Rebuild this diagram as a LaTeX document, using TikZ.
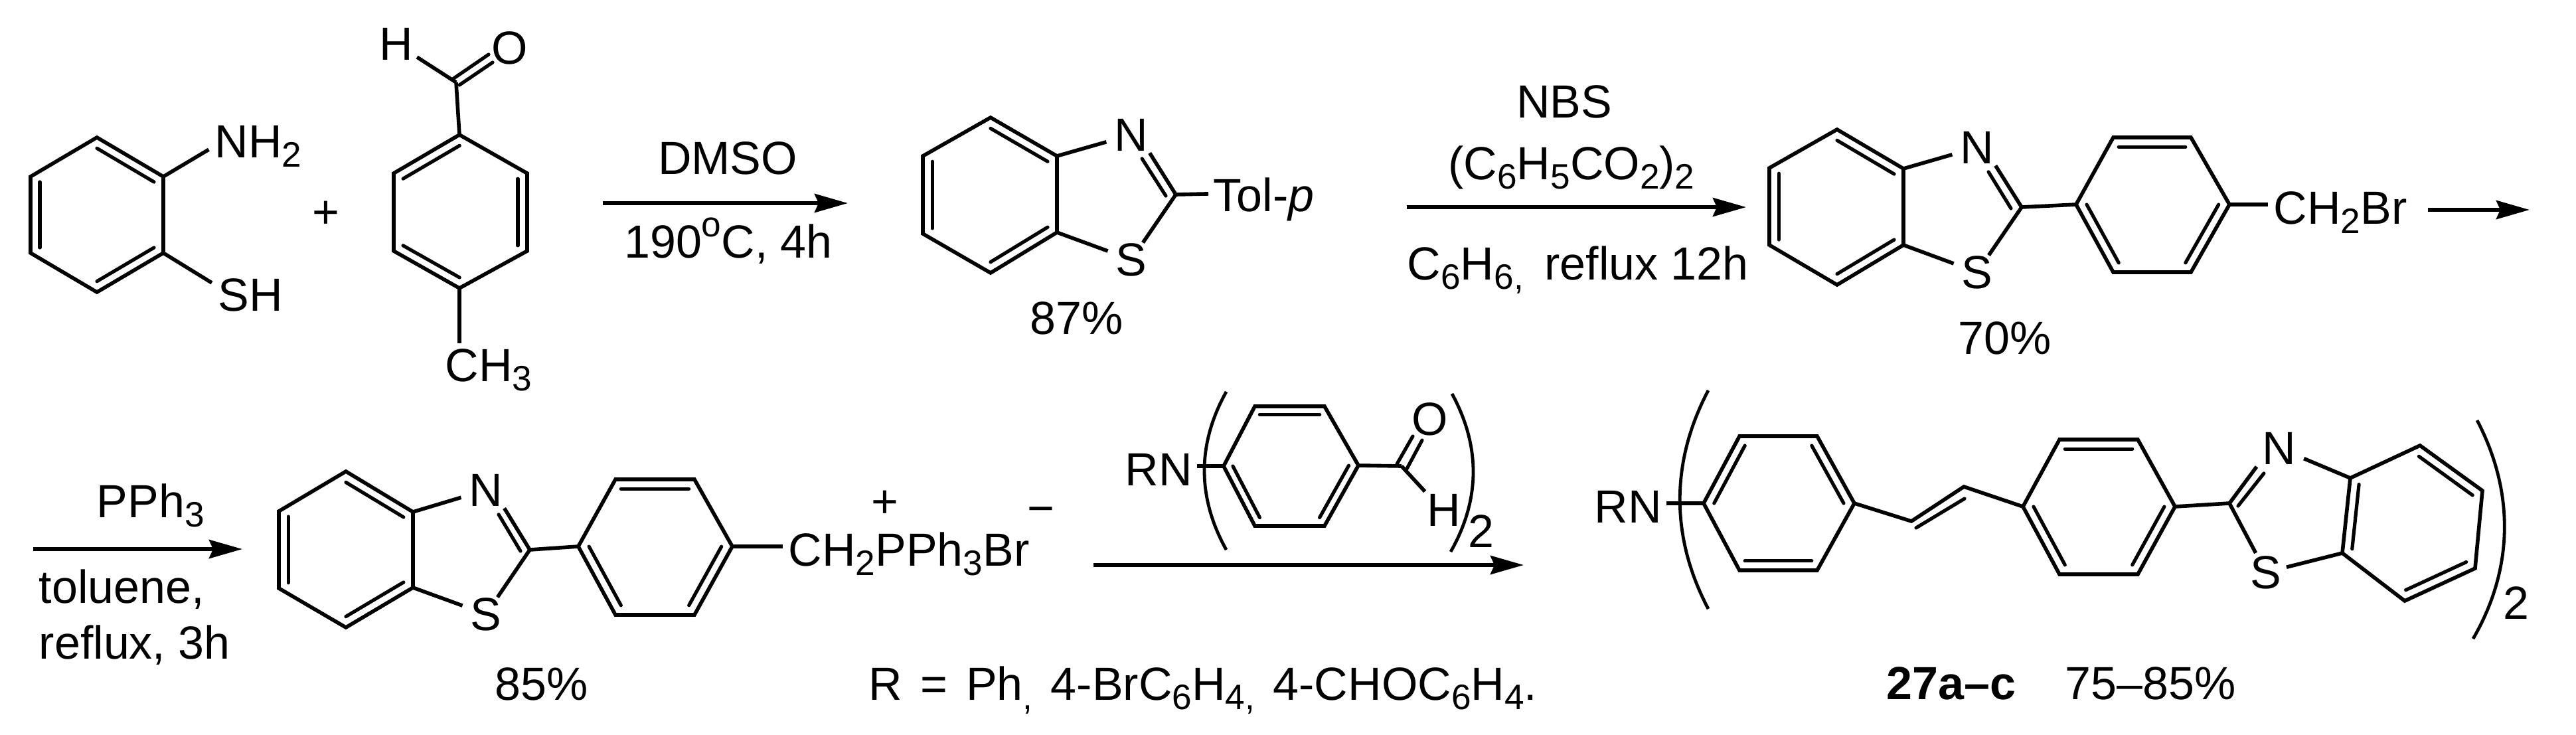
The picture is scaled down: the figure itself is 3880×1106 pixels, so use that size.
\documentclass[tikz,border=0pt]{standalone}
\usepackage{fontspec}
\setmainfont{Liberation Sans}
\usetikzlibrary{calc,arrows.meta}
\newcommand{\sbs}[1]{\raisebox{-3.6pt}{\fontsize{13.3}{14}\selectfont #1}}
\tikzset{
  lbl/.style={inner sep=0pt,font=\fontsize{17.5}{20}\selectfont},
  bond/.style={line width=1.4pt,line join=miter},
  inbond/.style={line width=1.3pt,line cap=round},
  brack/.style={line width=1.2pt},
  rxn/.style={line width=1.5pt,-{Stealth[length=12.5pt,width=7pt,inset=1.5pt]}}
}
% ring corners go clockwise, double bonds are always 1-2, 3-4, 5-6
\newcommand{\hexring}[7]{
  \coordinate (#11) at (#2);
  \coordinate (#12) at (#3);
  \coordinate (#13) at (#4);
  \coordinate (#14) at (#5);
  \coordinate (#15) at (#6);
  \coordinate (#16) at (#7);
  \coordinate (#1c) at ($(#11)!.5!(#14)$);
  \draw[bond] (#11) -- (#12) -- (#13) -- (#14) -- (#15) -- (#16) -- cycle;
  \foreach \p/\q in {1/2,3/4,5/6}
    \draw[inbond] ($(#1c)!.86!(#1\p)$) -- ($(#1c)!.86!(#1\q)$);
}
\begin{document}
\begin{tikzpicture}[x=.25pt,y=-.25pt]
  \useasboundingbox (0,0) rectangle (3880,1106);
  % first row
  \hexring{a}{146,207}{246,266}{246,381}{146,440}{46,381}{46,266}
  \node[lbl,anchor=base west] (nh2) at (323,237) {NH\sbs{2}};
  \node[lbl,anchor=base west] (sh) at (328,468) {SH};
  \draw[bond,shorten >=2.5pt] (a2) -- (nh2.west);
  \draw[bond] (a3) -- ($(sh.west)+(-9,-18)$);
  \node[lbl] (plus) at (491,323) {+};
  \hexring{b}{794,261}{794,378}{692,434}{593,378}{593,261}{692,203}
  \coordinate (cho) at (687,124);
  \node[lbl] (h1) at (597,66) {H};
  \node[lbl] (o1) at (768,72) {O};
  \node[lbl,anchor=base west] (ch3) at (670,574) {CH\sbs{3}};
  \draw[bond] (b6) -- (cho);
  \draw[bond,shorten >=1.5pt] (cho) -- (h1);
  \draw[inbond] ($(cho)+(-5,-5)$) -- ($(o1)+(-32,10)$);
  \draw[inbond] ($(cho)+(5,4)$) -- ($(o1)+(-26,22)$);
  \draw[bond,shorten >=1.75pt] (b3) -- (b3 |- ch3.north);
  \coordinate (ar1a) at (908,306);
  \coordinate (ar1b) at (1277,306);
  \draw[rxn] (ar1a) -- (ar1b);
  \node[lbl,anchor=base] (dmso) at (1096,262) {DMSO};
  \node[lbl,anchor=base] (temp) at (1097,388) {190\raisebox{8pt}{\fontsize{13.3}{14}\selectfont o}C, 4h};
  % benzothiazole
  \hexring{c}{1492,177}{1592,235}{1592,350}{1492,411}{1390,352}{1390,235}
  \coordinate (t1) at (1771,293);
  \node[lbl] (n1) at (1704,203) {N};
  \node[lbl] (s1) at (1704,391) {S};
  \node[lbl,anchor=base west] (tol) at (1827,318) {Tol-\textit{p}};
  \node[lbl] (y87) at (1622,479) {87\%};
  \draw[bond,shorten >=3pt] (c2) -- (n1);
  \draw[bond,shorten >=3pt] (c3) -- (s1);
  \draw[bond,shorten >=.75pt] (t1) -- (n1.south east);
  \draw[inbond] ($(t1)+(-15,2)$) -- ($(n1.south east)+(-10,11)$);
  \draw[bond] (t1) -- (s1);
  \draw[bond] (t1) -- ($(tol.west)+(-7,-8)$);
  \coordinate (ar2a) at (2119,312);
  \coordinate (ar2b) at (2630,312);
  \draw[rxn] (ar2a) -- (ar2b);
  \node[lbl,anchor=base] (nbs) at (2356,177) {NBS};
  \node[lbl,anchor=base] (bpo) at (2367,270) {(C\sbs{6}H\sbs{5}CO\sbs{2})\sbs{2}};
  \node[lbl,anchor=base west] (benz) at (2119,421) {C\sbs{6}H\sbs{6,}\hspace{3pt} reflux 12h};
  % bromide
  \hexring{d}{2767,195}{2867,254}{2867,369}{2767,429}{2665,369}{2665,253}
  \hexring{e}{3183,207}{3300,207}{3358,308}{3300,410}{3183,410}{3127,308}
  \coordinate (t2) at (3045,312);
  \node[lbl] (n2) at (2978,222) {N};
  \node[lbl] (s2) at (2978,410) {S};
  \node[lbl,anchor=base west] (ch2br) at (3424,337) {CH\sbs{2}Br};
  \node[lbl] (y70) at (3020,509) {70\%};
  \draw[bond,shorten >=3pt] (d2) -- (n2);
  \draw[bond,shorten >=3pt] (d3) -- (s2);
  \draw[bond,shorten >=.75pt] (t2) -- (n2.south east);
  \draw[inbond] ($(t2)+(-16,2)$) -- ($(n2.south east)+(-9,12)$);
  \draw[bond] (t2) -- (s2);
  \draw[bond] (t2) -- (e6);
  \draw[bond,shorten >=2pt] (e3) -- (e3 -| ch2br.west);
  \coordinate (ar3a) at (3657,316);
  \coordinate (ar3b) at (3810,316);
  \draw[rxn] (ar3a) -- (ar3b);
  % second row
  \coordinate (ar4a) at (50,827);
  \coordinate (ar4b) at (365,827);
  \draw[rxn] (ar4a) -- (ar4b);
  \node[lbl,anchor=base west] (pph3) at (145,779) {PPh\sbs{3}};
  \node[lbl,anchor=base west] (tolu) at (58,908) {toluene,};
  \node[lbl,anchor=base west] (refl) at (58,992) {reflux, 3h};
  \hexring{f}{521,710}{622,771}{622,885}{521,945}{420,886}{420,770}
  \hexring{g}{927,722}{1046,722}{1103,823}{1046,926}{927,926}{871,823}
  \coordinate (t3) at (798,828);
  \node[lbl] (n3) at (732,738) {N};
  \node[lbl] (s3) at (732,925) {S};
  \node[lbl,anchor=base west] (salt) at (1187,852) {CH\sbs{2}PPh\sbs{3}Br};
  \node[lbl] (cat) at (1333,759) {+};
  \node[lbl] (ani) at (1568,777) {\textminus};
  \node[lbl] (y85) at (816,1030) {85\%};
  \draw[bond,shorten >=3pt] (f2) -- (n3);
  \draw[bond,shorten >=3pt] (f3) -- (s3);
  \draw[bond,shorten >=.75pt] (t3) -- (n3.south east);
  \draw[inbond] ($(t3)+(-14,2)$) -- ($(n3.south east)+(-7,12)$);
  \draw[bond] (t3) -- (s3);
  \draw[bond] (t3) -- (g6);
  \draw[bond,shorten >=2pt] (g3) -- (g3 -| salt.west);
  % aldehyde over the arrow
  \coordinate (ar5a) at (1647,851);
  \coordinate (ar5b) at (2295,851);
  \draw[rxn] (ar5a) -- (ar5b);
  \node[lbl,anchor=base west] (rn1) at (1694,731) {RN};
  \hexring{h}{1890,612}{1995,612}{2046,701}{1995,792}{1890,792}{1843,702}
  \coordinate (cho2) at (2111,702);
  \node[lbl] (o2) at (2154,631) {O};
  \node[lbl] (h2) at (2175,768) {H};
  \node[lbl] (two1) at (2231,800) {2};
  \draw[bond,shorten >=1.5pt] (h6) -- (h6 -| rn1.east);
  \draw[bond] (h3) -- (cho2);
  \draw[inbond] ($(cho2)+(-7,-3)$) -- ($(o2)+(-26,26)$);
  \draw[inbond] ($(cho2)+(8,4)$) -- ($(o2)+(-12,32)$);
  \draw[bond,shorten >=1pt] (cho2) -- (h2.north west);
  \draw[brack] (1847,590) .. controls (1803,669) and (1803,749) .. (1847,828);
  \draw[brack] (2187,593) .. controls (2230,672) and (2230,752) .. (2185,831);
  \node[lbl,anchor=base west] (rdef) at (1308,1054) {R\hspace{2pt} =\hspace{2pt} Ph\sbs{,}\hspace{2pt} 4-BrC\sbs{6}H\sbs{4,}\hspace{2pt} 4-CHOC\sbs{6}H\sbs{4}.};
  % product
  \node[lbl,anchor=base west] (rn2) at (2401,787) {RN};
  \hexring{i}{2737,657}{2793,758}{2737,859}{2620,859}{2566,758}{2620,657}
  \hexring{j}{3102,662}{3220,662}{3276,763}{3220,865}{3102,865}{3047,763}
  \hexring{k}{3645,671}{3739,739}{3728,856}{3622,905}{3528,833}{3540,720}
  \coordinate (v1) at (2879,785);
  \coordinate (v2) at (2958,733);
  \coordinate (t4) at (3358,758);
  \node[lbl] (n4) at (3433,675) {N};
  \node[lbl] (s4) at (3413,862) {S};
  \node[lbl] (two2) at (3790,908) {2};
  \draw[bond,shorten >=1.5pt] (i5) -- (i5 -| rn2.east);
  \draw[bond] (i2) -- (v1) -- (v2) -- (j6);
  \draw[inbond] ($(v1)+(7,10)$) -- ($(v2)+(1,18)$);
  \draw[bond] (j3) -- (t4);
  \draw[bond] (t4) -- ($(n4.south west)+(-8,3)$);
  \draw[inbond] ($(t4)+(13,4)$) -- ($(n4.south west)+(3,13)$);
  \draw[bond,shorten >=1pt] (t4) -- (s4);
  \draw[bond,shorten >=3pt] (k6) -- (n4);
  \draw[bond,shorten >=1.75pt] (k5) -- (s4);
  \draw[brack] (2573,588) .. controls (2516,696) and (2516,809) .. (2573,917);
  \draw[brack] (3731,633) .. controls (3787,740) and (3787,855) .. (3725,962);
  \node[lbl,anchor=base west] (cmpd) at (2841,1053) {\textbf{27a–c}};
  \node[lbl,anchor=base west] (yld) at (3110,1053) {75–85\%};
\end{tikzpicture}
\end{document}
